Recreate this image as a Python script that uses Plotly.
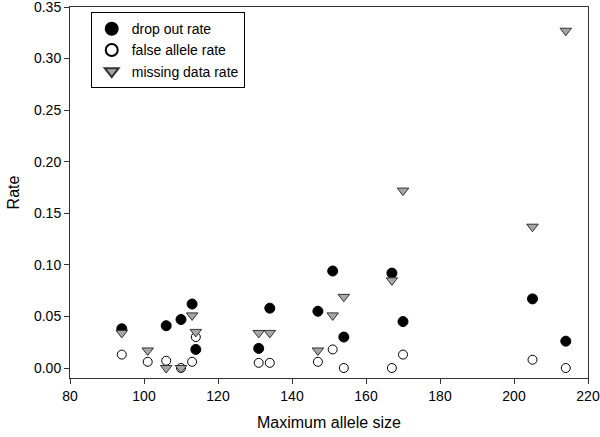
import plotly.graph_objects as go

allele_size = [94, 101, 106, 110, 113, 114, 131, 134, 147, 151, 154, 167, 170, 205, 214]
drop_out_rate = [0.038, None, 0.041, 0.047, 0.062, 0.018, 0.019, 0.058, 0.055, 0.094, 0.030, 0.092, 0.045, 0.067, 0.026]
false_allele_rate = [0.013, 0.006, 0.007, 0.000, 0.006, 0.030, 0.005, 0.005, 0.006, 0.018, 0.000, 0.000, 0.013, 0.008, 0.000]
missing_data_rate = [0.034, 0.017, 0.000, 0.000, 0.051, 0.035, 0.034, 0.034, 0.017, 0.051, 0.069, 0.085, 0.172, 0.137, 0.327]

x_ticks = [80, 100, 120, 140, 160, 180, 200, 220]
y_ticks = [0.00, 0.05, 0.10, 0.15, 0.20, 0.25, 0.30, 0.35]

FONT = "Arial, Liberation Sans, sans-serif"

fig = go.Figure()
fig.add_trace(go.Scatter(
    x=allele_size, y=drop_out_rate, mode="markers", name="drop out rate",
    marker=dict(symbol="circle", size=10, color="black", line=dict(color="black", width=1)),
))
fig.add_trace(go.Scatter(
    x=allele_size, y=false_allele_rate, mode="markers", name="false allele rate",
    marker=dict(symbol="circle", size=9, color="white", line=dict(color="black", width=1)),
))
fig.add_trace(go.Scatter(
    x=allele_size, y=missing_data_rate, mode="markers", name="missing data rate",
    marker=dict(symbol="triangle-down", size=10, color="#a6a6a6", line=dict(color="#333333", width=1)),
))

fig.update_layout(
    width=600, height=437,
    margin=dict(l=70, r=12, t=7, b=59),
    plot_bgcolor="white", paper_bgcolor="white",
    font=dict(family=FONT, size=14, color="black"),
    showlegend=True,
    legend=dict(
        x=0.04, y=0.986, xanchor="left", yanchor="top",
        bgcolor="white", bordercolor="black", borderwidth=1,
        font=dict(family=FONT, size=14, color="black"),
        itemsizing="constant",
        tracegroupgap=0,
        entrywidth=120, entrywidthmode="pixels",
    ),
    xaxis=dict(
        range=[80, 220], tickvals=x_ticks, ticktext=[str(v) for v in x_ticks],
        ticks="outside", ticklen=5, tickcolor="#333", showgrid=False, zeroline=False,
        showline=True, linecolor="#333", linewidth=1, mirror=True, automargin=False,
        ticklabeloverflow="allow",
        title=dict(text="Maximum allele size", font=dict(family=FONT, size=16), standoff=14),
        tickfont=dict(family=FONT, size=14),
    ),
    yaxis=dict(
        range=[-0.0097, 0.35], tickvals=y_ticks, ticktext=[f"{v:.2f}" for v in y_ticks],
        ticks="outside", ticklen=5, tickcolor="#333", showgrid=False, zeroline=False,
        showline=True, linecolor="#333", linewidth=1, mirror=True, automargin=False,
        ticklabeloverflow="allow",
        title=dict(text="Rate", font=dict(family=FONT, size=16), standoff=10),
        tickfont=dict(family=FONT, size=14),
    ),
)

fig.write_html(
    "out.html",
    config={"displayModeBar": False},
    post_script="document.body.style.margin='0px';document.body.style.padding='0px';",
)
